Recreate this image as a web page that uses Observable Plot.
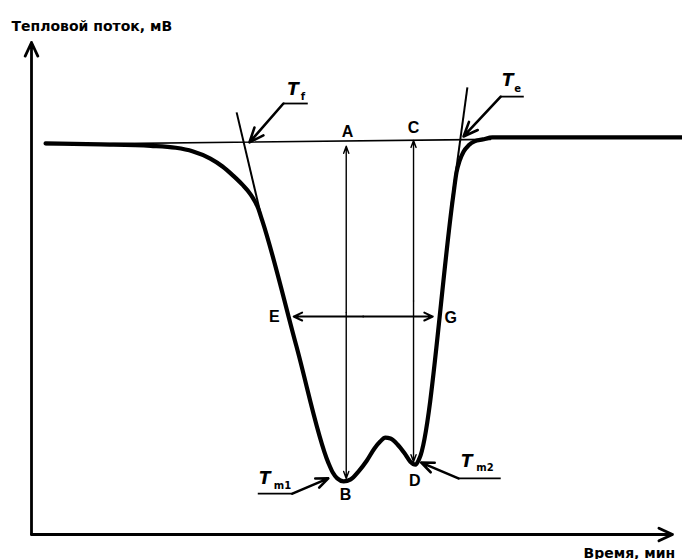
<!DOCTYPE html>
<html><head><meta charset="utf-8">
<script src="https://cdn.jsdelivr.net/npm/d3@7"></script>
<script src="https://cdn.jsdelivr.net/npm/@observablehq/plot@0.6"></script>
<style>body{margin:0;background:#fff} svg{display:block}</style>
</head><body><div id="chart"></div>
<script>
// DSC curve (arbitrary units: time 0..100, heat flow 0..100)
const curveTime = [2.2, 10.8, 18.6, 22.5, 25.1, 27.9, 29.8, 31.4, 32.9, 34.2, 35.3, 36.0, 41.3, 46.3, 47.0, 47.7, 48.7, 49.8, 51.0, 52.3, 53.5, 54.4, 55.2, 56.0, 57.1, 58.2, 59.1, 59.9, 60.5, 65.8, 66.3, 66.8, 67.4, 68.2, 69.1, 70.4, 71.9, 101.6];
const curveFlow = [79.5, 79.3, 79.0, 78.6, 77.9, 76.4, 74.8, 73.0, 71.1, 69.1, 66.5, 63.8, 38.4, 14.6, 12.6, 11.4, 10.8, 11.2, 12.8, 15.0, 17.5, 18.9, 19.7, 19.5, 18.3, 16.5, 14.8, 14.2, 15.4, 68.9, 73.6, 76.0, 77.8, 79.1, 79.9, 80.3, 80.7, 80.7];

// extrapolated baseline
const baseTime = [2.2, 71.6];
const baseFlow = [79.3, 80.3];

// tangents to the steep flanks
const tangentStartTime = [32.0, 68.0];
const tangentStartFlow = [85.8, 90.9];
const tangentEndTime = [35.7, 65.5];
const tangentEndFlow = [65.4, 66.9];

// vertical double arrows A–B and C–D
const vArrowTime = [49.1, 59.6];
const vArrowTop = [78.9, 80.1];
const vArrowBottom = [11.4, 14.8];

// horizontal double arrow E–G
const hArrowFlow = 44.3;
const hArrowLeft = 40.9;
const hArrowRight = 62.6;

// point letters
const letterText = ["A", "C", "E", "G", "B", "D"];
const letterTime = [49.3, 59.6, 37.9, 65.4, 49.0, 59.8];
const letterFlow = [81.8, 82.6, 44.3, 44.1, 8.1, 10.8];

// temperature labels T_f, T_e, T_m1, T_m2
const tLabelTime = [39.9, 73.4, 35.5, 67.0];
const tLabelFlow = [90.4, 92.3, 11.3, 14.9];
const subText = ["f", "e", "m1", "m2"];
const subTime = [42.0, 75.3, 37.8, 69.4];
const subFlow = [88.9, 90.5, 9.8, 13.6];
const underStart = [39.3, 73.2, 35.3, 66.6];
const underEnd = [43.1, 76.8, 40.7, 73.2];
const underFlow = [87.6, 89.0, 8.3, 11.4];
const leaderFromTime = [39.3, 73.2, 40.7, 66.6];
const leaderFromFlow = [87.6, 89.0, 8.3, 11.4];
const leaderToTime = [34.0, 67.4, 46.3, 60.8];
const leaderToFlow = [79.7, 80.9, 11.4, 14.6];

const yTitle = "Тепловой поток, мВ";
const xTitle = "Время, мин";

const curve = curveTime.map((t, i) => ({t, f: curveFlow[i]}));
const base = baseTime.map((t, i) => ({t, f: baseFlow[i]}));
const tangents = tangentStartTime.map((t, i) => ({x1: t, y1: tangentStartFlow[i], x2: tangentEndTime[i], y2: tangentEndFlow[i]}));
const vArrows = [];
vArrowTime.forEach((t, i) => {
  const mid = (vArrowTop[i] + vArrowBottom[i]) / 2;
  vArrows.push({x1: t, y1: mid, x2: t, y2: vArrowTop[i]});
  vArrows.push({x1: t, y1: mid, x2: t, y2: vArrowBottom[i]});
});
const hMid = (hArrowLeft + hArrowRight) / 2;
const hArrows = [
  {x1: hMid, y1: hArrowFlow, x2: hArrowLeft, y2: hArrowFlow},
  {x1: hMid, y1: hArrowFlow, x2: hArrowRight, y2: hArrowFlow}
];
const letters = letterText.map((s, i) => ({s, t: letterTime[i], f: letterFlow[i]}));
const tLabels = tLabelTime.map((t, i) => ({t, f: tLabelFlow[i]}));
const subs = subText.map((s, i) => ({s, t: subTime[i], f: subFlow[i]}));
const unders = underStart.map((x1, i) => ({x1, x2: underEnd[i], y: underFlow[i]}));
const leaders = leaderFromTime.map((x1, i) => ({x1, y1: leaderFromFlow[i], x2: leaderToTime[i], y2: leaderToFlow[i]}));

const font = "'Liberation Sans', Arial, sans-serif";
const wide = "'DejaVu Sans', sans-serif";

const chart = Plot.plot({
  width: 682,
  height: 559,
  marginLeft: 31,
  marginRight: 10,
  marginTop: 42,
  marginBottom: 25,
  x: {domain: [0, 100], axis: null},
  y: {domain: [0, 100], axis: null},
  style: {fontFamily: font, background: "#fff", overflow: "visible"},
  marks: [
    // axes
    Plot.arrow([{x1: 0, y1: 0, x2: 0, y2: 100}, {x1: 0, y1: 0, x2: 100, y2: 0}],
      {x1: "x1", y1: "y1", x2: "x2", y2: "y2", stroke: "#000", strokeWidth: 2.8, headLength: 8, headAngle: 50}),
    // baseline & tangents
    Plot.line(base, {x: "t", y: "f", stroke: "#000", strokeWidth: 1.6}),
    Plot.link(tangents, {x1: "x1", y1: "y1", x2: "x2", y2: "y2", stroke: "#000", strokeWidth: 2}),
    // main curve
    Plot.line(curve, {x: "t", y: "f", stroke: "#000", strokeWidth: 4.2, curve: "monotone-x", strokeLinejoin: "round"}),
    // measurement arrows
    Plot.arrow(vArrows, {x1: "x1", y1: "y1", x2: "x2", y2: "y2", stroke: "#000", strokeWidth: 1.4, headLength: 8, headAngle: 40}),
    Plot.arrow(hArrows, {x1: "x1", y1: "y1", x2: "x2", y2: "y2", stroke: "#000", strokeWidth: 2, headLength: 7, headAngle: 50}),
    // leaders
    Plot.link(unders, {x1: "x1", x2: "x2", y1: "y", y2: "y", stroke: "#000", strokeWidth: 1.8}),
    Plot.arrow(leaders, {x1: "x1", y1: "y1", x2: "x2", y2: "y2", stroke: "#000", strokeWidth: 2.6, headLength: 9, headAngle: 45}),
    // letters
    Plot.text(letters, {x: "t", y: "f", text: "s", fontSize: 16, fontWeight: "bold", fill: "#000"}),
    Plot.text(tLabels, {x: "t", y: "f", text: () => "T", textAnchor: "start", fontFamily: wide, fontSize: 17, fontWeight: "bold", fontStyle: "italic", fill: "#000"}),
    Plot.text(subs, {x: "t", y: "f", text: "s", textAnchor: "start", fontFamily: wide, fontSize: 10, fontWeight: "bold", fill: "#000"}),
    // axis titles
    Plot.text([yTitle], {frameAnchor: "top-left", dx: -20, dy: -12, textAnchor: "start", lineAnchor: "bottom", fontFamily: wide, fontSize: 14, fontWeight: "bold", fill: "#000"}),
    Plot.text([xTitle], {frameAnchor: "bottom-right", dx: -89, dy: 23, textAnchor: "start", lineAnchor: "bottom", fontFamily: wide, fontSize: 14, fontWeight: "bold", fill: "#000"})
  ]
});
document.getElementById("chart").append(chart);
</script>
</body></html>
